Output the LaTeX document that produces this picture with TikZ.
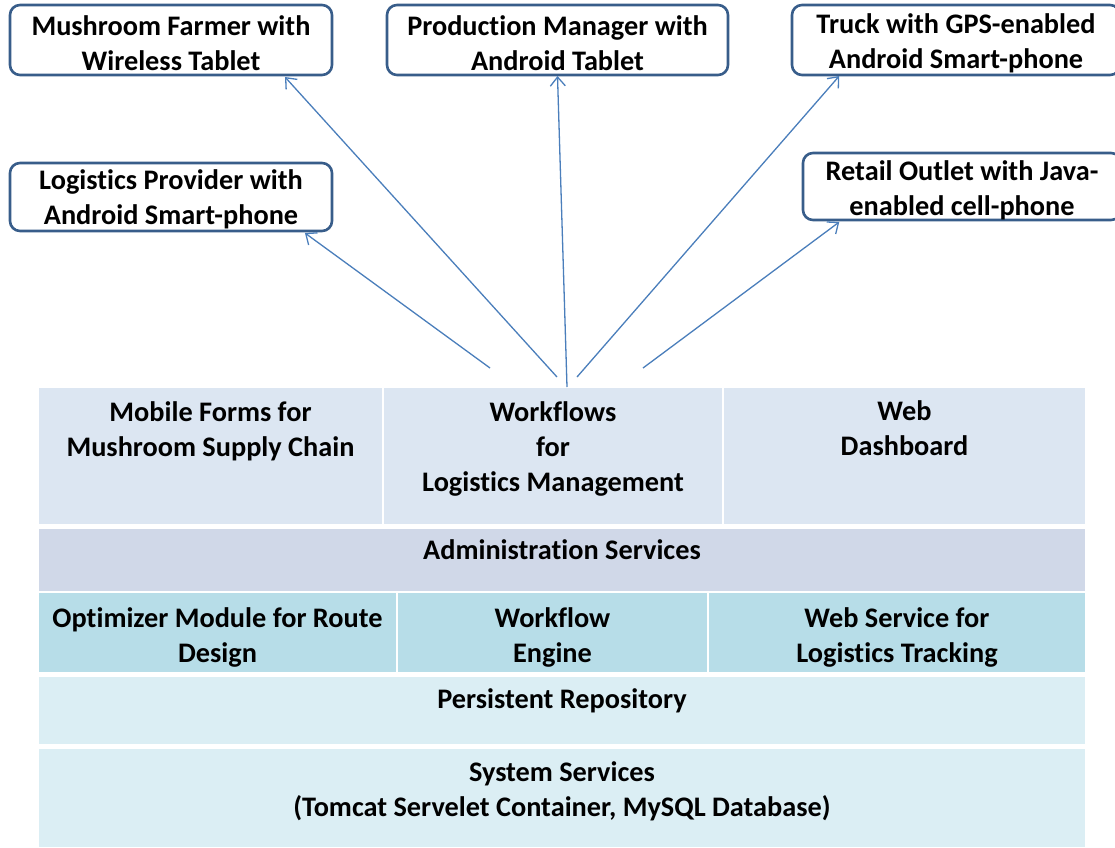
\documentclass[tikz,border=0pt]{standalone}
\usepackage{fontspec}
\setmainfont{Carlito}[Ligatures=NoCommon]
\usetikzlibrary{arrows.meta,calc}

\definecolor{boxline}{RGB}{56,93,138}
\definecolor{arrowblue}{RGB}{74,126,187}
\definecolor{appfill}{RGB}{220,230,242}
\definecolor{adminfill}{RGB}{208,216,232}
\definecolor{svcfill}{RGB}{183,221,232}
\definecolor{basefill}{RGB}{219,238,244}

\begin{document}
\begin{tikzpicture}[x=1pt,y=-1pt,
  txt/.style={font=\bfseries\fontsize{28.3}{35}\selectfont, align=center, inner sep=0pt},
  device/.style={draw=boxline, line width=2.6pt, rounded corners=10pt, fill=white,
    anchor=north west, inner sep=0pt, outer sep=0pt},
  cell/.style={anchor=north west, inner sep=0pt, outer sep=0pt},
  link/.style={draw=arrowblue, line width=1.3pt, -{Straight Barb[length=9pt,width=15pt]}}
]
\path[use as bounding box] (0,0) rectangle (1115,847);

% ---- client devices ----
\node[device, minimum width=322, minimum height=70] (farmer) at (10,5) {};
\node[device, minimum width=341, minimum height=70] (manager) at (387,5) {};
\node[device, minimum width=328, minimum height=70] (truck) at (792,5) {};
\node[device, minimum width=322, minimum height=68] (provider) at (10,163) {};
\node[device, minimum width=318, minimum height=67] (retail) at (803,153) {};
\node[txt] (farmerT) at ($(farmer.center)+(0,3)$) {Mushroom Farmer with\\Wireless Tablet};
\node[txt] (managerT) at ($(manager.center)+(0,3)$) {Production Manager with\\Android Tablet};
\node[txt] (truckT) at ($(truck.center)+(0,3.5)$) {Truck with GPS-enabled\\Android Smart-phone};
\node[txt] (providerT) at ($(provider.center)+(0,2.5)$) {Logistics Provider with\\Android Smart-phone};
\node[txt] (retailT) at ($(retail.center)+(0,3.5)$) {Retail Outlet with Java-\\enabled cell-phone};

% ---- application layer ----
\node[cell, fill=appfill, minimum width=343, minimum height=136] (forms) at (39,388) {};
\node[cell, fill=appfill, minimum width=338, minimum height=136] (flows) at (384,388) {};
\node[cell, fill=appfill, minimum width=361, minimum height=136] (dash) at (724,388) {};
\node[txt] (formsT) at ($(forms.north)+(0,43.5)$) {Mobile Forms for\\Mushroom Supply Chain};
\node[txt] (flowsT) at ($(flows.north)+(0,61)$) {Workflows\\for\\Logistics Management};
\node[txt] (dashT) at ($(dash.north)+(0,40.5)$) {Web\\Dashboard};

% ---- administration ----
\node[cell, fill=adminfill, minimum width=1046, minimum height=62] (admin) at (39,529) {};
\node[txt] (adminT) at ($(admin.north)+(0,21)$) {Administration Services};

% ---- services layer ----
\node[cell, fill=svcfill, minimum width=357, minimum height=79] (optim) at (39,593) {};
\node[cell, fill=svcfill, minimum width=309, minimum height=79] (engine) at (398,593) {};
\node[cell, fill=svcfill, minimum width=376, minimum height=79] (track) at (709,593) {};
\node[txt] (optimT) at ($(optim.north)+(0,44.5)$) {Optimizer Module for Route\\Design};
\node[txt] (engineT) at ($(engine.north)+(0,44.5)$) {Workflow\\Engine};
\node[txt] (trackT) at ($(track.north)+(0,44.5)$) {Web Service for\\Logistics Tracking};

% ---- repository and system ----
\node[cell, fill=basefill, minimum width=1046, minimum height=67] (repo) at (39,677) {};
\node[txt] (repoT) at ($(repo.north)+(0,24)$) {Persistent Repository};
\node[cell, fill=basefill, minimum width=1046, minimum height=98] (sys) at (39,749) {};
\node[txt] (sysT) at ($(sys.north)+(0,42)$) {System Services\\(Tomcat Servelet Container, MySQL Database)};

% ---- links from the workflow layer to the devices ----
\coordinate (s1) at (490,368);
\coordinate (s2) at (557,377);
\coordinate (s3) at (567,387);
\coordinate (s4) at (577,377);
\coordinate (s5) at (643,368);

\draw[link] (s1) -- ($(provider.south west)!0.916!(provider.south east)+(0,2)$);
\draw[link] (s2) -- ($(farmer.south west)!0.854!(farmer.south east)+(0,2)$);
\draw[link] (s3) -- ($(manager.south)+(0,1)$);
\draw[link] (s4) -- ($(truck.south west)!0.144!(truck.south east)+(0,1)$);
\draw[link] (s5) -- ($(retail.south west)!0.114!(retail.south east)+(0,2)$);
\end{tikzpicture}
\end{document}
